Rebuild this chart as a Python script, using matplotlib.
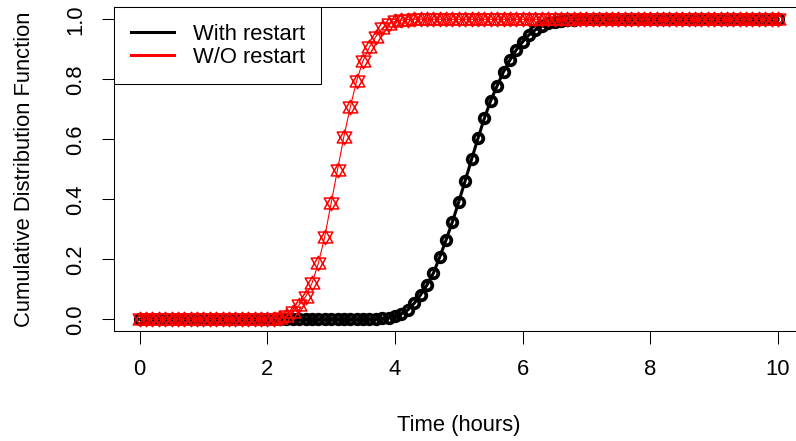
import matplotlib
matplotlib.use("Agg")
import matplotlib.pyplot as plt
import numpy as np
from matplotlib.path import Path
from matplotlib.lines import Line2D

plt.rcParams['font.family'] = ['Liberation Sans', 'DejaVu Sans']

# time grid (hours)
hours = np.round(np.arange(0, 101) * 0.1, 1)

# CDF with restart (black), rise part from 3.7 h to 6.8 h
with_rise = [0.001, 0.003, 0.005, 0.010, 0.018, 0.031, 0.053, 0.081,
             0.114, 0.153, 0.207, 0.264, 0.325, 0.392, 0.462, 0.533,
             0.603, 0.670, 0.729, 0.778, 0.825, 0.864, 0.898, 0.925,
             0.948, 0.965, 0.977, 0.986, 0.992, 0.995, 0.997, 0.999]
with_start = 3.7

# CDF without restart (red), rise part from 2.0 h to 4.2 h
wo_rise = [0.001, 0.002, 0.005, 0.012, 0.025, 0.048, 0.075, 0.120,
           0.187, 0.275, 0.387, 0.498, 0.609, 0.707, 0.795, 0.862,
           0.907, 0.942, 0.970, 0.985, 0.993, 0.997, 0.999]
wo_start = 2.0


def build(rise, start):
    n0 = int(round(start * 10))
    n1 = len(hours) - n0 - len(rise)
    return np.concatenate([np.zeros(n0), rise, np.ones(n1)])


cdf_with = build(with_rise, with_start)
cdf_wo = build(wo_rise, wo_start)

# R pch=11 style marker (two overlapping triangles)
star = Path([(0, 1), (-1.01, -0.75), (1.01, -0.75), (0, 1),
             (0, -1), (-1.01, 0.75), (1.01, 0.75), (0, -1)],
            [Path.MOVETO, Path.LINETO, Path.LINETO, Path.CLOSEPOLY,
             Path.MOVETO, Path.LINETO, Path.LINETO, Path.CLOSEPOLY])

fig = plt.figure(figsize=(7.96, 4.41), dpi=100)
ax = fig.add_axes([0.1433, 0.2488, 0.8662, 0.7347])

ax.plot(hours, cdf_with, color='black', lw=2.2, marker='o', ms=6.9,
        mfc='none', mew=2.7)
ax.plot(hours, cdf_wo, color='red', lw=0.8, marker=star, ms=10.5,
        mfc='none', mew=1.1)

ax.set_xlim(-0.4, 10.4)
ax.set_ylim(-0.04, 1.04)
ax.set_xticks([0, 2, 4, 6, 8, 10])
ax.set_yticks([0, 0.2, 0.4, 0.6, 0.8, 1.0])
ax.set_yticklabels(['0.0', '0.2', '0.4', '0.6', '0.8', '1.0'])
ax.tick_params(axis='both', direction='out', length=9, width=0.75,
               labelsize=15.8)
ax.tick_params(axis='x', pad=11)
ax.tick_params(axis='y', pad=11, labelrotation=90)
for t in ax.get_yticklabels():
    t.set_va('center')
for s in ax.spines.values():
    s.set_linewidth(0.75)

ax.set_xlabel('Time (hours)', fontsize=15.8, labelpad=25)
ax.set_ylabel('Cumulative Distribution Function', fontsize=15.8, labelpad=22)

handles = [Line2D([], [], color='black', lw=2.2),
           Line2D([], [], color='red', lw=2.2)]
leg = ax.legend(handles, ['With restart', 'W/O restart'], loc='upper left',
                bbox_to_anchor=(0, 1), borderaxespad=0, fontsize=15.8,
                fancybox=False, framealpha=1, edgecolor='black',
                handlelength=1.96, handletextpad=0.87, labelspacing=0.1,
                borderpad=0.75)
leg.get_frame().set_linewidth(0.75)

fig.savefig('out.png', dpi=100)
